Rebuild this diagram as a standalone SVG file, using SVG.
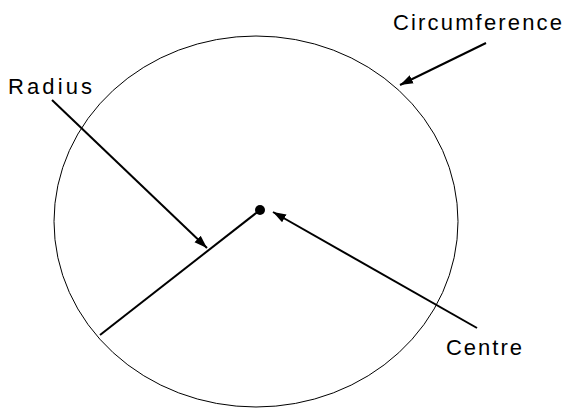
<svg xmlns="http://www.w3.org/2000/svg" width="566" height="408" viewBox="0 0 566 408">
<style>
.lbl{font-family:"Liberation Sans",Arial,sans-serif;font-size:22px;fill:#000}
.arr{stroke:#000;stroke-width:2;fill:none;marker-end:url(#ah)}
</style>
<defs>
<marker id="ah" markerUnits="userSpaceOnUse" markerWidth="14" markerHeight="10" refX="13" refY="5" orient="auto">
<path d="M0,0.5 L13,5 L0,9.5 z" fill="#000"/>
</marker>
</defs>
<rect width="566" height="408" fill="#fff"/>
<g id="circle">
<ellipse cx="256" cy="221.5" rx="202" ry="185.5" fill="none" stroke="#000" stroke-width="1"/>
</g>
<g id="radius-line">
<line x1="100" y1="335" x2="260" y2="210" stroke="#000" stroke-width="2"/>
<circle cx="260" cy="210" r="5" fill="#000"/>
</g>
<g id="labels">
<g id="radius"><text class="lbl" x="8" y="94" textLength="84" lengthAdjust="spacing">Radius</text></g>
<g id="circumference"><text class="lbl" x="393" y="30" textLength="169" lengthAdjust="spacing">Circumference</text></g>
<g id="centre"><text class="lbl" x="446" y="355" textLength="76" lengthAdjust="spacing">Centre</text></g>
</g>
<g id="connectors">
<line class="arr" x1="52" y1="100" x2="207" y2="248"/>
<line class="arr" x1="486" y1="43" x2="400" y2="85"/>
<line class="arr" x1="477" y1="328" x2="273" y2="212"/>
</g>
</svg>
